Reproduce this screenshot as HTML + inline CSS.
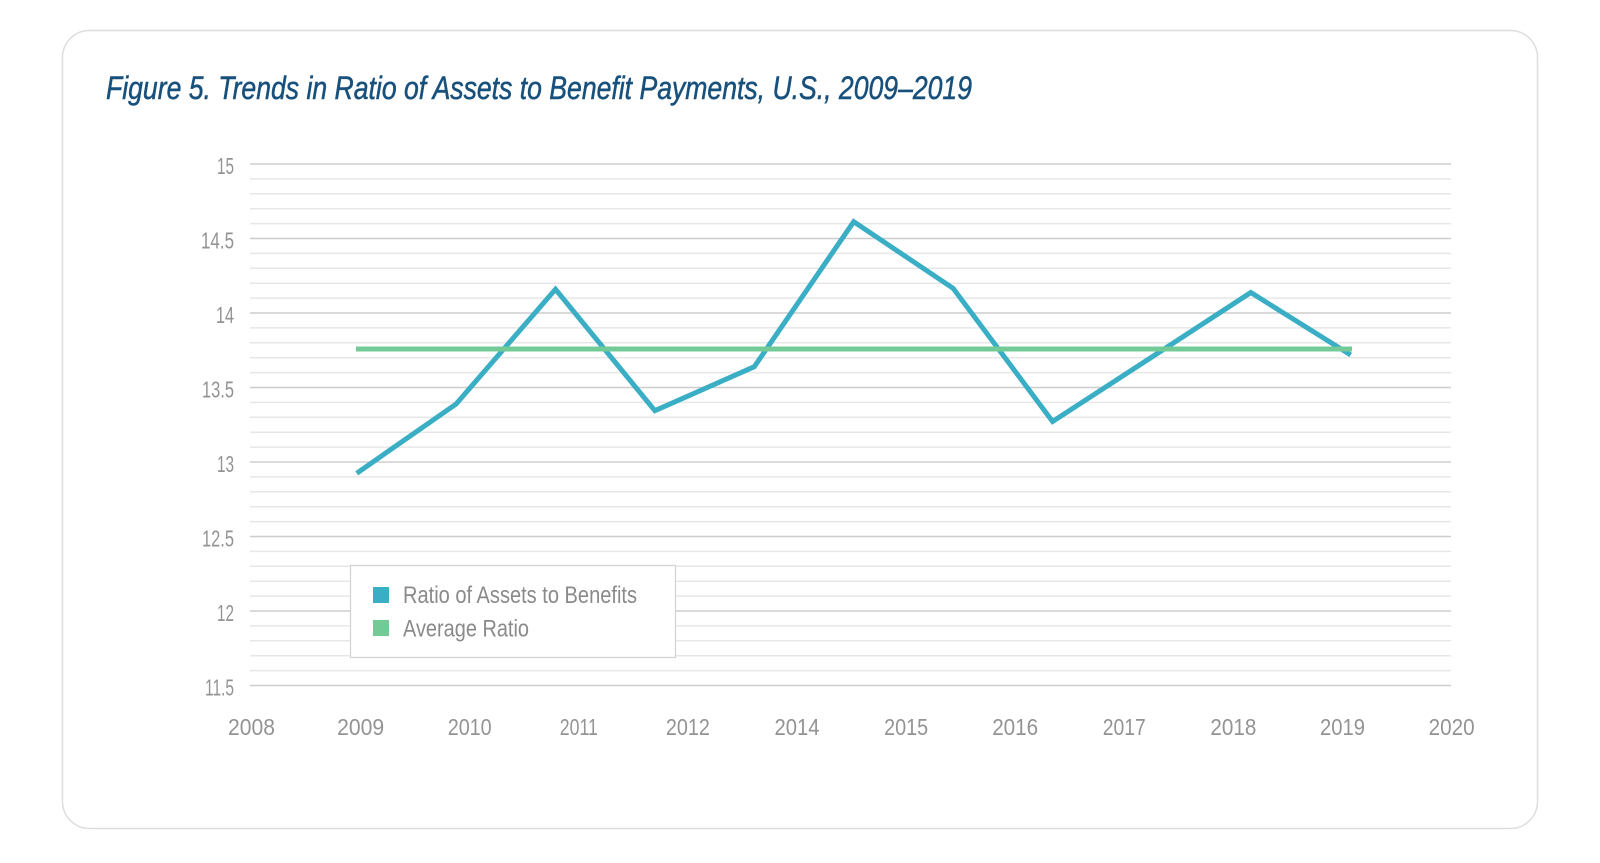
<!DOCTYPE html>
<html>
<head>
<meta charset="utf-8">
<style>
  html, body { margin:0; padding:0; background:#ffffff; }
  body { width:1600px; height:863px; overflow:hidden; }
  svg { display:block; }
  .tick { font-family:"Liberation Sans", sans-serif; font-size:23px; fill:#939393; }
  .leg { font-family:"Liberation Sans", sans-serif; font-size:24px; fill:#8a8a8a; }
  .title { font-family:"Liberation Sans", sans-serif; font-style:italic; font-size:32px; fill:#18507c; stroke:#18507c; stroke-width:0.5; }
</style>
</head>
<body>
<svg width="1600" height="863" viewBox="0 0 1600 863" xmlns="http://www.w3.org/2000/svg">
  <rect x="0" y="0" width="1600" height="863" fill="#ffffff"/>
  <!-- card -->
  <rect x="62.5" y="30.5" width="1475" height="798" rx="27" ry="27" fill="#ffffff" stroke="#dedede" stroke-width="1.5"/>

  <!-- title -->
  <text class="title" x="106" y="99" textLength="866" lengthAdjust="spacingAndGlyphs">Figure 5. Trends in Ratio of Assets to Benefit Payments, U.S., 2009–2019</text>

  <!-- minor gridlines -->
  <g stroke="#e7e7e7" stroke-width="1.5">
    <line x1="250" x2="1451" y1="178.9" y2="178.9"/>
    <line x1="250" x2="1451" y1="193.8" y2="193.8"/>
    <line x1="250" x2="1451" y1="208.7" y2="208.7"/>
    <line x1="250" x2="1451" y1="223.6" y2="223.6"/>
    <line x1="250" x2="1451" y1="253.4" y2="253.4"/>
    <line x1="250" x2="1451" y1="268.3" y2="268.3"/>
    <line x1="250" x2="1451" y1="283.2" y2="283.2"/>
    <line x1="250" x2="1451" y1="298.1" y2="298.1"/>
    <line x1="250" x2="1451" y1="327.9" y2="327.9"/>
    <line x1="250" x2="1451" y1="342.8" y2="342.8"/>
    <line x1="250" x2="1451" y1="357.7" y2="357.7"/>
    <line x1="250" x2="1451" y1="372.6" y2="372.6"/>
    <line x1="250" x2="1451" y1="402.4" y2="402.4"/>
    <line x1="250" x2="1451" y1="417.3" y2="417.3"/>
    <line x1="250" x2="1451" y1="432.2" y2="432.2"/>
    <line x1="250" x2="1451" y1="447.1" y2="447.1"/>
    <line x1="250" x2="1451" y1="476.9" y2="476.9"/>
    <line x1="250" x2="1451" y1="491.8" y2="491.8"/>
    <line x1="250" x2="1451" y1="506.7" y2="506.7"/>
    <line x1="250" x2="1451" y1="521.6" y2="521.6"/>
    <line x1="250" x2="1451" y1="551.4" y2="551.4"/>
    <line x1="250" x2="1451" y1="566.3" y2="566.3"/>
    <line x1="250" x2="1451" y1="581.2" y2="581.2"/>
    <line x1="250" x2="1451" y1="596.1" y2="596.1"/>
    <line x1="250" x2="1451" y1="625.9" y2="625.9"/>
    <line x1="250" x2="1451" y1="640.8" y2="640.8"/>
    <line x1="250" x2="1451" y1="655.7" y2="655.7"/>
    <line x1="250" x2="1451" y1="670.6" y2="670.6"/>
  </g>
  <!-- major gridlines -->
  <g stroke="#cdcdcd" stroke-width="1.5">
    <line x1="250" x2="1451" y1="164" y2="164"/>
    <line x1="250" x2="1451" y1="238.5" y2="238.5"/>
    <line x1="250" x2="1451" y1="313" y2="313"/>
    <line x1="250" x2="1451" y1="387.5" y2="387.5"/>
    <line x1="250" x2="1451" y1="462" y2="462"/>
    <line x1="250" x2="1451" y1="536.5" y2="536.5"/>
    <line x1="250" x2="1451" y1="611" y2="611"/>
    <line x1="250" x2="1451" y1="685.5" y2="685.5"/>
  </g>

  <!-- y tick labels -->
  <g class="tick" text-anchor="end">
    <text x="234" y="174" textLength="17" lengthAdjust="spacingAndGlyphs">15</text>
    <text x="234" y="248.5" textLength="33" lengthAdjust="spacingAndGlyphs">14.5</text>
    <text x="234" y="323" textLength="18" lengthAdjust="spacingAndGlyphs">14</text>
    <text x="234" y="397.5" textLength="32" lengthAdjust="spacingAndGlyphs">13.5</text>
    <text x="234" y="472" textLength="17" lengthAdjust="spacingAndGlyphs">13</text>
    <text x="234" y="546.5" textLength="32" lengthAdjust="spacingAndGlyphs">12.5</text>
    <text x="234" y="621" textLength="17" lengthAdjust="spacingAndGlyphs">12</text>
    <text x="234" y="695.5" textLength="29" lengthAdjust="spacingAndGlyphs">11.5</text>
  </g>

  <!-- x tick labels -->
  <g class="tick" text-anchor="middle">
    <text x="251.5" y="735" textLength="47" lengthAdjust="spacingAndGlyphs">2008</text>
    <text x="360.6" y="735" textLength="47" lengthAdjust="spacingAndGlyphs">2009</text>
    <text x="469.7" y="735" textLength="44" lengthAdjust="spacingAndGlyphs">2010</text>
    <text x="578.8" y="735" textLength="38" lengthAdjust="spacingAndGlyphs">2011</text>
    <text x="687.9" y="735" textLength="44" lengthAdjust="spacingAndGlyphs">2012</text>
    <text x="797.0" y="735" textLength="45" lengthAdjust="spacingAndGlyphs">2014</text>
    <text x="906.1" y="735" textLength="44" lengthAdjust="spacingAndGlyphs">2015</text>
    <text x="1015.2" y="735" textLength="46" lengthAdjust="spacingAndGlyphs">2016</text>
    <text x="1124.3" y="735" textLength="43" lengthAdjust="spacingAndGlyphs">2017</text>
    <text x="1233.4" y="735" textLength="46" lengthAdjust="spacingAndGlyphs">2018</text>
    <text x="1342.5" y="735" textLength="45" lengthAdjust="spacingAndGlyphs">2019</text>
    <text x="1451.6" y="735" textLength="46" lengthAdjust="spacingAndGlyphs">2020</text>
  </g>

  <!-- legend -->
  <rect x="350.5" y="565.5" width="325" height="92" fill="#ffffff" stroke="#d2d2d2" stroke-width="1.2"/>
  <rect x="373" y="587" width="16" height="16" fill="#3aaec5"/>
  <rect x="373" y="620" width="16" height="16" fill="#72cb97"/>
  <text class="leg" x="403" y="603" textLength="234" lengthAdjust="spacingAndGlyphs">Ratio of Assets to Benefits</text>
  <text class="leg" x="403" y="636.5" textLength="126" lengthAdjust="spacingAndGlyphs">Average Ratio</text>

  <!-- data series -->
  <polyline fill="none" stroke="#3aaec5" stroke-width="5" stroke-linejoin="miter" stroke-linecap="butt"
    points="356.7,473.3 456.1,404 555.5,289.3 654.9,410.7 754.3,366.7 853.7,221.7 953.1,288.3 1052.6,421.5 1151.9,357 1250.8,292.5 1350.7,355"/>
  <line x1="356" y1="349" x2="1352" y2="349" stroke="#72cb97" stroke-width="5"/>
</svg>
</body>
</html>
